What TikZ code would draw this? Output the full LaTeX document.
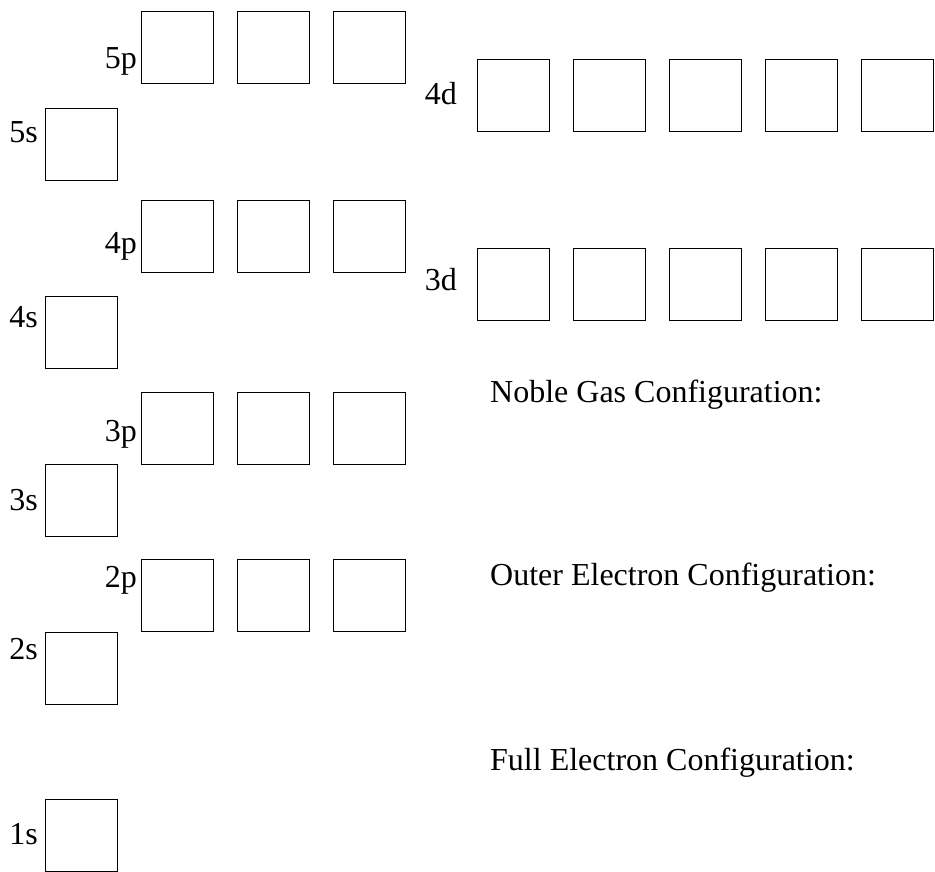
\documentclass[tikz,border=0pt]{standalone}
\usepackage{fontspec}
\setmainfont{Liberation Serif}
\begin{document}
\begin{tikzpicture}[x=1pt,y=-1pt,
  orb/.style={draw,line width=1.4pt,minimum size=72pt,inner sep=0pt,anchor=north west},
  lbl/.style={inner sep=0pt,anchor=base east,font=\fontsize{32}{38}\selectfont},
  txt/.style={inner sep=0pt,anchor=base west,font=\fontsize{32}{38}\selectfont}]
\useasboundingbox (0,0) rectangle (935,871);
% s orbitals
\node[orb] (s5) at (45,107.5) {};
\node[orb] (s4) at (45,295.5) {};
\node[orb] (s3) at (45,463.5) {};
\node[orb] (s2) at (45,631.5) {};
\node[orb] (s1) at (45,799) {};
% p orbitals
\foreach \r/\y in {5/10.5,4/199.5,3/391.5,2/559}{
  \foreach \c/\x in {1/141,2/237,3/333}{
    \node[orb] (p\r\c) at (\x,\y) {};
  }
}
% d orbitals
\foreach \r/\y in {4/58.5,3/247.5}{
  \foreach \c/\x in {1/477,2/573,3/669,4/765,5/861}{
    \node[orb] (d\r\c) at (\x,\y) {};
  }
}
% labels
\node[lbl] (l5p) at (137,68) {5p};
\node[lbl] (l5s) at (38,142) {5s};
\node[lbl] (l4p) at (137,253) {4p};
\node[lbl] (l4s) at (38,327) {4s};
\node[lbl] (l3p) at (137,441) {3p};
\node[lbl] (l3s) at (38,510) {3s};
\node[lbl] (l2p) at (137,587) {2p};
\node[lbl] (l2s) at (38,659) {2s};
\node[lbl] (l1s) at (38,844) {1s};
\node[lbl] (l4d) at (457,104) {4d};
\node[lbl] (l3d) at (457,290) {3d};
% texts
\node[txt] (noble) at (490,402) {Noble Gas Configuration:};
\node[txt] (outer) at (490,585) {Outer Electron Configuration:};
\node[txt] (full) at (490,770) {Full Electron Configuration:};
\end{tikzpicture}
\end{document}
